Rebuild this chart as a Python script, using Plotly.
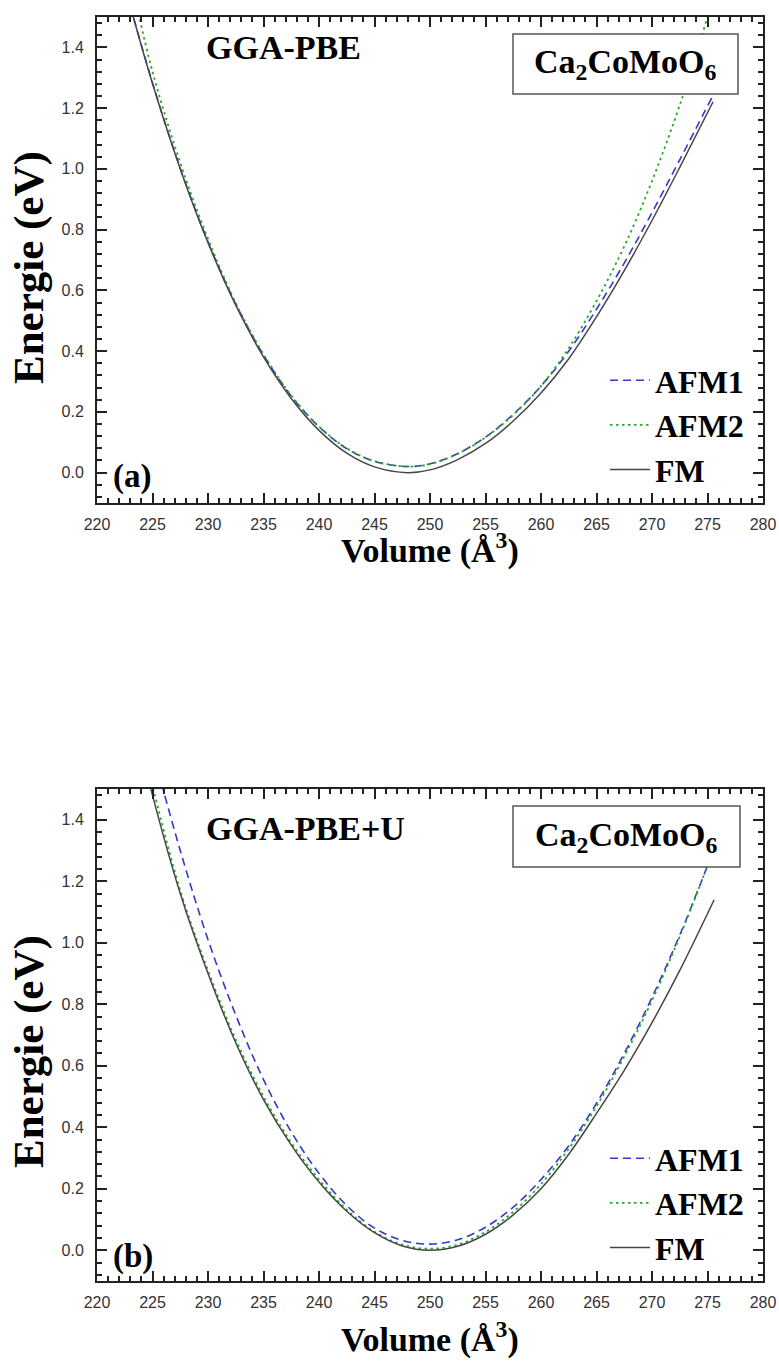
import plotly.graph_objects as go

# ---------------- data: E(V) curves, panel (a) GGA-PBE ----------------
vol_fm_a = [223.0, 225.0, 227.5, 230.0, 232.5, 235.0, 237.5, 240.0, 242.5, 245.0,
            248.0, 250.0, 252.5, 255.0, 257.5, 260.0, 262.5, 265.0, 267.5,
            270.0, 272.5, 275.5]
e_fm_a = [1.535, 1.281, 1.000, 0.757, 0.551, 0.381, 0.244, 0.139, 0.064, 0.019,
          0.0, 0.009, 0.043, 0.096, 0.170, 0.262, 0.375, 0.513, 0.665,
          0.830, 1.005, 1.221]

vol_afm1_a = [223.0, 225.0, 227.5, 230.0, 232.5, 235.0, 237.5, 240.0, 242.5, 245.0,
              248.0, 250.0, 252.5, 255.0, 257.5, 260.0, 262.5, 265.0, 267.5,
              270.0, 272.5, 275.4]
e_afm1_a = [1.537, 1.283, 1.002, 0.760, 0.555, 0.387, 0.252, 0.151, 0.079, 0.037,
            0.020, 0.029, 0.063, 0.117, 0.192, 0.285, 0.400, 0.538, 0.690,
            0.856, 1.030, 1.235]

vol_afm2_a = [223.5, 225.0, 227.5, 230.0, 232.5, 235.0, 237.5, 240.0, 242.5, 245.0,
              248.0, 250.0, 252.5, 255.0, 257.5, 260.0, 262.5, 265.0, 267.5,
              270.0, 272.5, 275.0]
e_afm2_a = [1.550, 1.320, 1.020, 0.770, 0.558, 0.390, 0.254, 0.152, 0.080, 0.038,
            0.020, 0.028, 0.062, 0.116, 0.190, 0.285, 0.410, 0.565, 0.745,
            0.960, 1.210, 1.500]

# ---------------- data: E(V) curves, panel (b) GGA-PBE+U ----------------
vol_fm_b = [224.6, 225.0, 227.5, 230.0, 232.5, 235.0, 237.5, 240.0, 242.5, 245.0,
            247.5, 250.0, 252.5, 255.0, 257.5, 260.0, 262.5, 265.0, 267.5, 270.0,
            272.5, 275.6]
e_fm_b = [1.54, 1.48, 1.16, 0.90, 0.675, 0.49, 0.342, 0.222, 0.127, 0.057,
          0.014, 0.0, 0.013, 0.052, 0.115, 0.200, 0.312, 0.445, 0.585, 0.740,
          0.910, 1.140]

vol_afm1_b = [225.5, 227.5, 230.0, 232.5, 235.0, 237.5, 240.0, 242.5, 245.0, 247.5,
              250.0, 252.5, 255.0, 257.5, 260.0, 262.5, 265.0, 267.5, 270.0, 272.5,
              275.0]
e_afm1_b = [1.56, 1.30, 1.01, 0.765, 0.555, 0.385, 0.250, 0.145, 0.072, 0.032,
            0.020, 0.034, 0.075, 0.140, 0.230, 0.340, 0.478, 0.640, 0.822, 1.025,
            1.250]

vol_afm2_b = [224.8, 225.0, 227.5, 230.0, 232.5, 235.0, 237.5, 240.0, 242.5, 245.0,
              247.5, 250.0, 252.5, 255.0, 257.5, 260.0, 262.5, 265.0, 267.5, 270.0,
              272.5, 275.0]
e_afm2_b = [1.54, 1.51, 1.17, 0.91, 0.685, 0.50, 0.350, 0.230, 0.132, 0.060,
            0.018, 0.005, 0.018, 0.060, 0.125, 0.215, 0.330, 0.468, 0.630, 0.812,
            1.020, 1.250]

x_ticks = [220, 225, 230, 235, 240, 245, 250, 255, 260, 265, 270, 275, 280]
y_ticks = [0.0, 0.2, 0.4, 0.6, 0.8, 1.0, 1.2, 1.4]

series_names = ["AFM1", "AFM2", "FM"]
panel_methods = ["GGA-PBE", "GGA-PBE+U"]
panel_tags = ["(a)", "(b)"]
compound = "Ca<sub>2</sub>CoMoO<sub>6</sub>"

# ---------------- styling ----------------
W, H = 779, 1367
ML, MR, MT, MB = 97, 16, 17, 86
SERIF = "Liberation Serif, Times New Roman, serif"
SANS = "Liberation Sans, Arial, sans-serif"
AXIS_COL = "#222222"
styles = {
    "AFM1": dict(color="rgb(55,55,205)", width=1.6, dash="8px,5px"),
    "AFM2": dict(color="rgb(40,170,40)", width=1.8, dash="2.5px,3.5px"),
    "FM": dict(color="rgb(70,70,70)", width=1.5, dash="solid"),
}


def px_x(px):
    return (px - ML) / (W - ML - MR)


def px_y(py):
    return 1 - (py - MT) / (H - MT - MB)


fig = go.Figure()

panels = [
    ("x", "y", "legend", [(vol_afm1_a, e_afm1_a), (vol_afm2_a, e_afm2_a), (vol_fm_a, e_fm_a)]),
    ("x2", "y2", "legend2", [(vol_afm1_b, e_afm1_b), (vol_afm2_b, e_afm2_b), (vol_fm_b, e_fm_b)]),
]
for xa, ya, leg, curves in panels:
    for name, (v, e) in zip(series_names, curves):
        fig.add_trace(go.Scatter(
            x=v, y=e, mode="lines", name=name, line=styles[name],
            line_shape="spline", xaxis=xa, yaxis=ya, legend=leg,
        ))

axis_common = dict(
    showline=True, linecolor=AXIS_COL, linewidth=2, mirror="allticks",
    ticks="inside", ticklen=10, tickwidth=2, tickcolor=AXIS_COL,
    showgrid=False, zeroline=False,
    tickfont=dict(family=SANS, size=16, color="#333333"),
)
xcommon = dict(axis_common, range=[220, 280], tickvals=x_ticks,
               minor=dict(dtick=1, ticklen=5, tickwidth=1.5, tickcolor=AXIS_COL, ticks="inside"),
               ticklabelstandoff=6)
ycommon = dict(axis_common, range=[-0.1, 1.5], tickvals=y_ticks,
               ticktext=[f"{t:.1f}" for t in y_ticks],
               minor=dict(tick0=0, dtick=0.04, ticklen=5, tickwidth=1.5, tickcolor=AXIS_COL, ticks="inside"),
               ticklabelstandoff=8)

top_dom = [px_y(503), 1.0]
bot_dom = [0.0, px_y(789)]

legend_style = dict(xanchor="left", yanchor="top",
                    font=dict(family=SERIF, size=32, color="black", weight="bold"),
                    bgcolor="rgba(0,0,0,0)", itemwidth=40, tracegroupgap=0)

fig.update_layout(
    width=W, height=H,
    margin=dict(l=ML, r=MR, t=MT, b=MB, autoexpand=False),
    paper_bgcolor="white", plot_bgcolor="white",
    xaxis=dict(xcommon, anchor="y", domain=[0, 1]),
    yaxis=dict(ycommon, anchor="x", domain=top_dom),
    xaxis2=dict(xcommon, anchor="y2", domain=[0, 1]),
    yaxis2=dict(ycommon, anchor="x2", domain=bot_dom),
    legend=dict(legend_style, x=px_x(605), y=px_y(353)),
    legend2=dict(legend_style, x=px_x(605), y=px_y(1131)),
    showlegend=True,
)

annotations = []
shapes = []
panel_geo = [
    dict(title_y=268, xtitle_y=548, method_y=47, tag_y=476, box=(513, 34, 738, 94)),
    dict(title_y=1052, xtitle_y=1337, method_y=828, tag_y=1256, box=(513, 806, 740, 867)),
]


def label(text, x, y, size, **kw):
    return dict(text=text, xref="paper", yref="paper", x=px_x(x), y=px_y(y),
                xanchor=kw.pop("xanchor", "center"), yanchor="middle", showarrow=False,
                font=dict(family=SERIF, size=size, color="black"), **kw)


for geo, method, tag in zip(panel_geo, panel_methods, panel_tags):
    annotations.append(label("<b>Energie (eV)</b>", 29, geo["title_y"], 43, textangle=-90))
    annotations.append(label("<b>Volume (Å<sup>3</sup>)</b>", 430, geo["xtitle_y"], 34))
    annotations.append(label(f"<b>{method}</b>", 204, geo["method_y"], 34, xanchor="left"))
    annotations.append(label(f"<b>{tag}</b>", 111, geo["tag_y"], 33, xanchor="left"))
    # compound label in a framed box
    x0, y0, x1, y1 = geo["box"]
    shapes.append(dict(type="rect", xref="paper", yref="paper",
                       x0=px_x(x0), x1=px_x(x1), y0=px_y(y1), y1=px_y(y0),
                       line=dict(color="#555555", width=1.5), fillcolor="white"))
    annotations.append(label(f"<b>{compound}</b>", (x0 + x1) / 2, (y0 + y1) / 2, 34))

fig.update_layout(annotations=annotations, shapes=shapes)
fig.write_html("out.html")
